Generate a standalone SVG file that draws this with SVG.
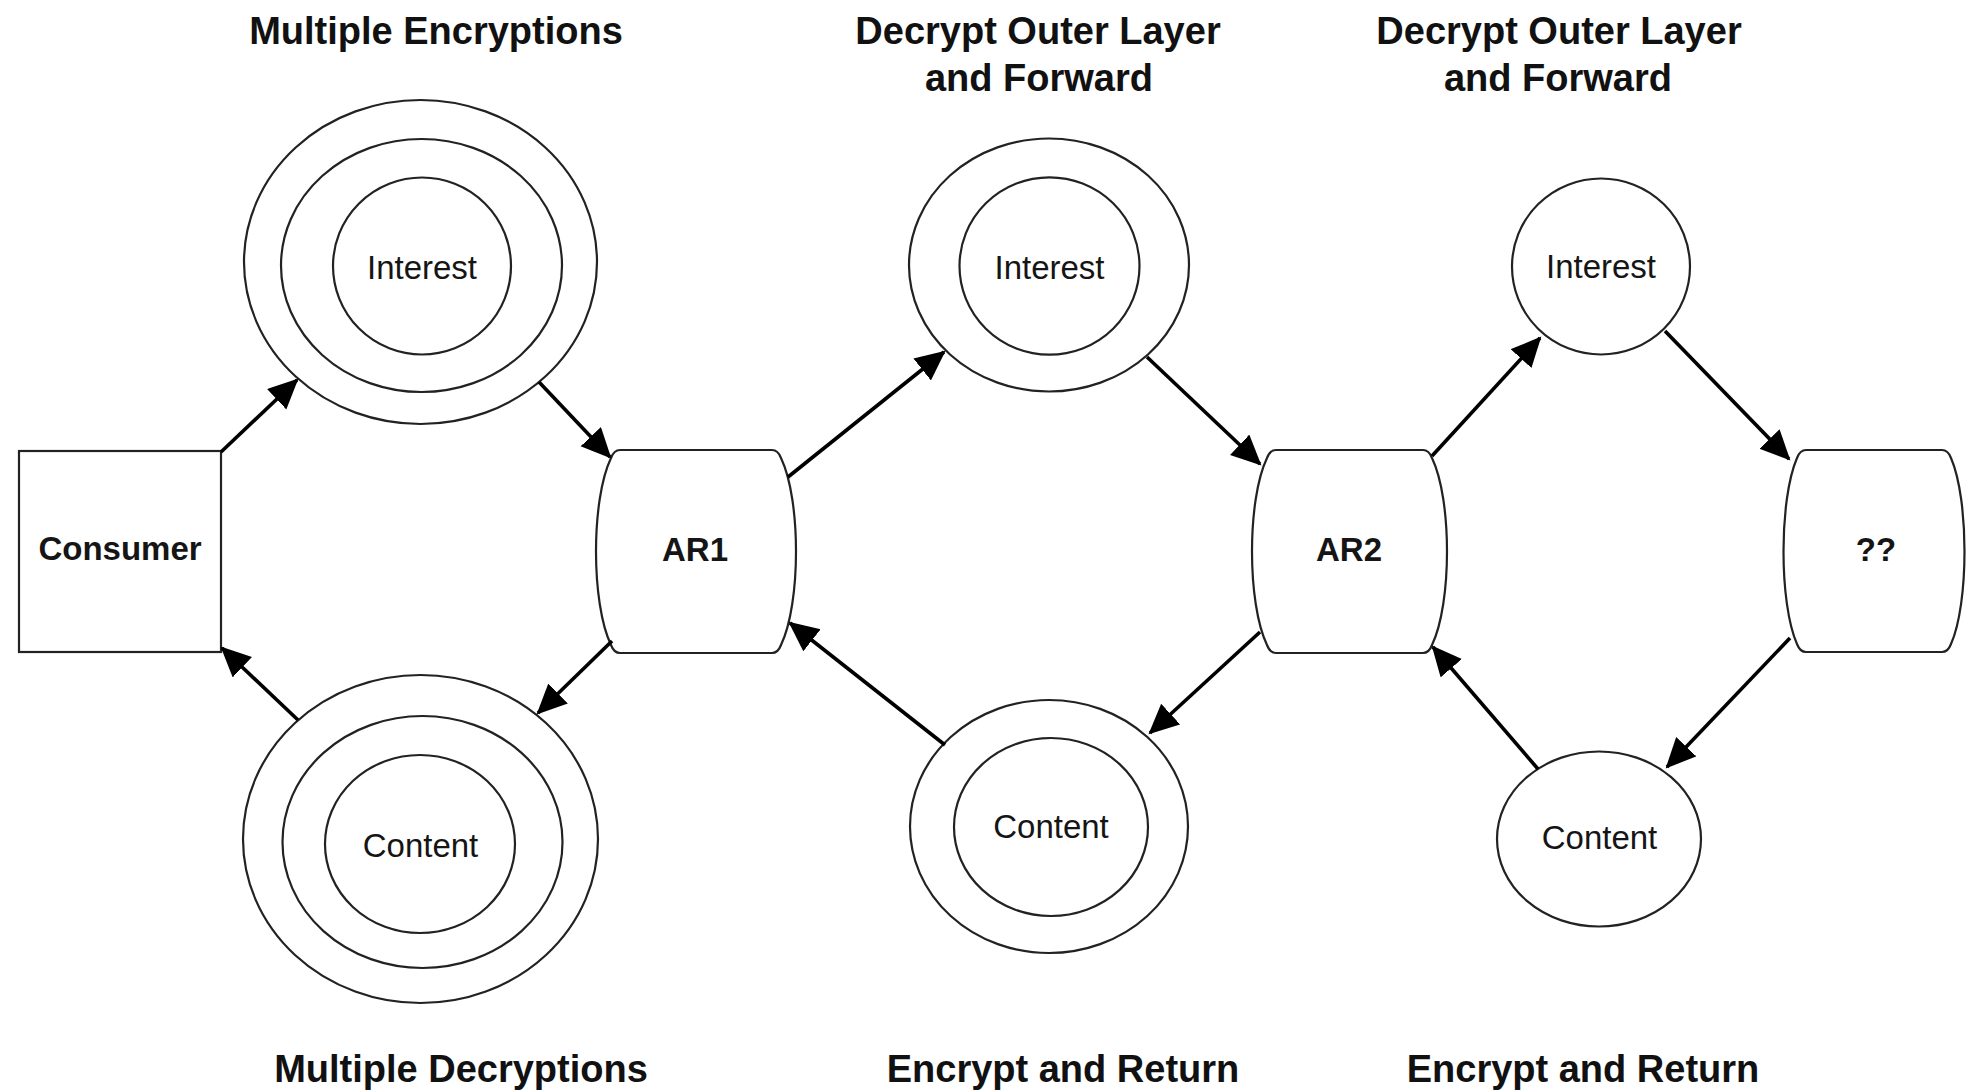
<svg xmlns="http://www.w3.org/2000/svg" width="1967" height="1091" viewBox="0 0 1967 1091">
<style>
.sh{fill:#fff;stroke:#222;stroke-width:2.2}
.ring{fill:none;stroke:#222;stroke-width:2.2}
.lbl{font-family:"Liberation Sans",Arial,sans-serif;font-size:33px;fill:#151515;text-anchor:middle}
.b{font-weight:bold}
.title{font-family:"Liberation Sans",Arial,sans-serif;font-size:38px;font-weight:bold;fill:#111;text-anchor:middle}
.con{fill:none;stroke:#000;stroke-width:3.6}
</style>
<defs>
<marker id="ah" markerUnits="userSpaceOnUse" markerWidth="34" markerHeight="30" refX="28" refY="14" orient="auto">
<path d="M0,0 L30,14 L0,28 Z" fill="#000"/>
</marker>
</defs>
<rect width="1967" height="1091" fill="#fff"/>

<g id="titles">
<text class="title" x="436" y="44">Multiple Encryptions</text>
<text class="title" x="1038" y="44">Decrypt Outer Layer</text>
<text class="title" x="1039" y="91">and Forward</text>
<text class="title" x="1559" y="44">Decrypt Outer Layer</text>
<text class="title" x="1558" y="91">and Forward</text>
<text class="title" x="461" y="1082">Multiple Decryptions</text>
<text class="title" x="1063" y="1082">Encrypt and Return</text>
<text class="title" x="1583" y="1082">Encrypt and Return</text>
</g>

<g id="consumer">
<rect class="sh" x="19" y="451" width="202" height="201"/>
<text class="lbl b" x="120" y="560">Consumer</text>
</g>

<g id="interest1">
<ellipse class="ring" cx="420.5" cy="262" rx="176.5" ry="162"/>
<ellipse class="ring" cx="421.5" cy="265.5" rx="140.5" ry="126.5"/>
<ellipse class="ring" cx="422" cy="266" rx="89" ry="88.5"/>
<text class="lbl" x="422" y="279">Interest</text>
</g>

<g id="content1">
<ellipse class="ring" cx="420.5" cy="839" rx="177.5" ry="164"/>
<ellipse class="ring" cx="422.5" cy="842" rx="140" ry="126"/>
<ellipse class="ring" cx="420" cy="844" rx="95" ry="89"/>
<text class="lbl" x="420.5" y="857">Content</text>
</g>

<g id="ar1">
<path class="sh" d="M620,450 L772,450 Q778,450 781,458 C801,500 801,603 781,645 Q778,653 772,653 L620,653 Q614,653 611,645 C591,603 591,500 611,458 Q614,450 620,450 Z"/>
<text class="lbl b" x="695" y="561">AR1</text>
</g>

<g id="interest2">
<ellipse class="ring" cx="1049" cy="265" rx="140" ry="126.5"/>
<ellipse class="ring" cx="1049.5" cy="266" rx="90" ry="88.7"/>
<text class="lbl" x="1049.5" y="279">Interest</text>
</g>

<g id="content2">
<ellipse class="ring" cx="1049" cy="826.5" rx="139" ry="126.5"/>
<ellipse class="ring" cx="1051" cy="827" rx="97" ry="89"/>
<text class="lbl" x="1051" y="838">Content</text>
</g>

<g id="ar2">
<path class="sh" d="M1276,450 L1423,450 Q1429,450 1432,458 C1452,500 1452,603 1432,645 Q1429,653 1423,653 L1276,653 Q1270,653 1267,645 C1247,603 1247,500 1267,458 Q1270,450 1276,450 Z"/>
<text class="lbl b" x="1349" y="561">AR2</text>
</g>

<g id="interest3">
<ellipse class="sh" cx="1601" cy="266.5" rx="89" ry="88"/>
<text class="lbl" x="1601" y="278">Interest</text>
</g>

<g id="content3">
<ellipse class="sh" cx="1599" cy="839" rx="102" ry="87.5"/>
<text class="lbl" x="1599.5" y="849">Content</text>
</g>

<g id="unknown">
<path class="sh" d="M1806,450 L1942,450 Q1948,450 1951,458 C1969,500 1969,603 1951,644 Q1948,652 1942,652 L1806,652 Q1800,652 1797,644 C1779,603 1779,500 1797,458 Q1800,450 1806,450 Z"/>
<text class="lbl b" x="1876" y="561">??</text>
</g>

<g id="connectors">
<path class="con" marker-end="url(#ah)" d="M221,452 L297,380"/>
<path class="con" marker-end="url(#ah)" d="M539,382 L610,457"/>
<path class="con" marker-end="url(#ah)" d="M788,477 L944,352"/>
<path class="con" marker-end="url(#ah)" d="M1147,357 L1260,464"/>
<path class="con" marker-end="url(#ah)" d="M1432,456 L1540,338"/>
<path class="con" marker-end="url(#ah)" d="M1665,331 L1789,459"/>
<path class="con" marker-end="url(#ah)" d="M1790,638 L1667,767"/>
<path class="con" marker-end="url(#ah)" d="M1538,769 L1433,647"/>
<path class="con" marker-end="url(#ah)" d="M1260,632 L1150,733"/>
<path class="con" marker-end="url(#ah)" d="M945,745 L790,623"/>
<path class="con" marker-end="url(#ah)" d="M612,641 L538,713"/>
<path class="con" marker-end="url(#ah)" d="M298,720 L222,648"/>
</g>
</svg>
